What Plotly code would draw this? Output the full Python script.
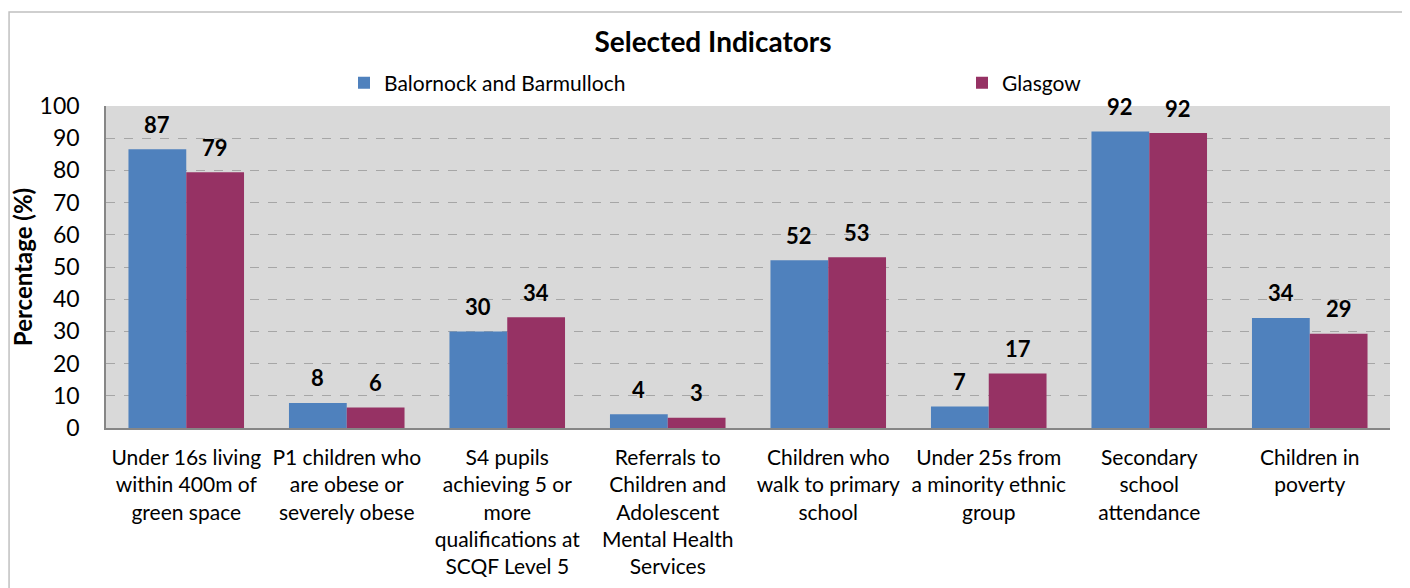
import plotly.graph_objects as go

# data
categories = [
    "Under 16s living<br>within 400m of<br>green space",
    "P1 children who<br>are obese or<br>severely obese",
    "S4 pupils<br>achieving 5 or<br>more<br>qualifications at<br>SCQF Level 5",
    "Referrals to<br>Children and<br>Adolescent<br>Mental Health<br>Services",
    "Children who<br>walk to primary<br>school",
    "Under 25s from<br>a minority ethnic<br>group",
    "Secondary<br>school<br>attendance",
    "Children in<br>poverty",
]
balornock = [86.6, 7.8, 30.0, 4.3, 52.1, 6.7, 92.1, 34.2]
glasgow = [79.4, 6.4, 34.4, 3.2, 53.0, 16.9, 91.6, 29.3]

BLUE = "#4F81BD"
MAROON = "#963264"
FONT = "Lato"

fig = go.Figure()
fig.add_trace(go.Bar(x=categories, y=balornock, name="Balornock and Barmulloch",
                     marker=dict(color=BLUE, line=dict(width=0)), legend="legend"))
fig.add_trace(go.Bar(x=categories, y=glasgow, name="Glasgow",
                     marker=dict(color=MAROON, line=dict(width=0)), legend="legend2"))

# data labels above bars
for vals, shift in ((balornock, -29), (glasgow, 29)):
    for c, v in zip(categories, vals):
        fig.add_annotation(x=c, y=v, text=f"<b>{v:.0f}</b>", showarrow=False,
                           xshift=shift, yshift=25, yanchor="middle",
                           font=dict(size=22, color="black", family=FONT))

# outer chart border
fig.add_shape(type="rect", xref="paper", yref="paper",
              x0=-0.0755, x1=1.05, y0=-0.7, y1=1.292,
              line=dict(color="#C0C0C0", width=1.5), fillcolor="rgba(0,0,0,0)",
              layer="below")

leg_common = dict(orientation="h", xanchor="left", y=1.0714, yanchor="middle",
                  font=dict(size=21, family=FONT), bgcolor="rgba(0,0,0,0)",
                  itemclick=False)

# page body adds 8px offset, so the margins are shifted by that amount
fig.update_layout(
    width=1410, height=588,
    margin=dict(l=98, r=28, t=98, b=168, autoexpand=False),
    paper_bgcolor="white",
    plot_bgcolor="#D9D9D9",
    font=dict(family=FONT, size=21, color="black"),
    title=dict(text="<b>Selected Indicators</b>", x=0.5, xanchor="center",
               y=1 - 34 / 588, yanchor="middle", font=dict(size=28, family=FONT)),
    barmode="group",
    bargap=0.28,
    bargroupgap=0,
    legend=dict(x=(344 - 106) / 1284, **leg_common),
    legend2=dict(x=(962 - 106) / 1284, **leg_common),
    showlegend=True,
)
fig.update_xaxes(showline=True, linecolor="#868686", linewidth=1.5,
                 tickfont=dict(size=21, family=FONT), ticks="", showgrid=False,
                 ticklabelstandoff=10)
fig.update_yaxes(range=[0, 100], dtick=10, showgrid=True, gridcolor="#A6A6A6",
                 griddash="dash", gridwidth=1, showline=True, linecolor="#868686",
                 linewidth=1.5, zeroline=False, ticks="", ticklabelstandoff=20,
                 tickfont=dict(size=23, family=FONT),
                 title=dict(text="<b>Percentage (%)</b>", font=dict(size=24, family=FONT),
                            standoff=0))

fig.write_html("out.html")
